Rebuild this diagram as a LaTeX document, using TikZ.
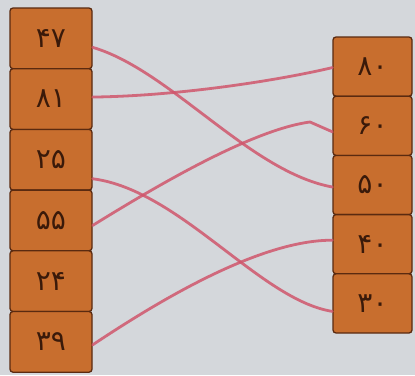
\documentclass[tikz,border=0pt]{standalone}
\usepackage{fontspec}
\newfontfamily\fa[Script=Arabic]{DejaVu Sans}
\usetikzlibrary{calc}
\definecolor{bg}{HTML}{D4D7DB}
\definecolor{boxfill}{HTML}{C86E2E}
\definecolor{boxline}{HTML}{5A2A10}
\definecolor{ink}{HTML}{3A1A0A}
\definecolor{pen}{HTML}{D0566C}
\tikzset{
  numbox/.style={draw=boxline, line width=1.3pt, fill=boxfill, rounded corners=3pt,
    minimum width=82pt, minimum height=60.7pt, inner sep=0pt,
    font=\fa\fontsize{28}{32}\selectfont, text=ink},
  rbox/.style={numbox, minimum width=79pt, minimum height=59.2pt},
  link/.style={draw=pen, line width=2.8pt, opacity=0.85, line cap=round}
}
\begin{document}
\begin{tikzpicture}[x=1pt,y=-1pt]
\fill[bg] (0,0) rectangle (415,375);
\useasboundingbox (0,0) rectangle (415,375);
% left column
\node[numbox] (l47) at (51,38.35) {۴۷};
\node[numbox] (l81) at (51,99.05) {۸۱};
\node[numbox] (l25) at (51,159.75) {۲۵};
\node[numbox] (l55) at (51,220.45) {۵۵};
\node[numbox] (l24) at (51,281.15) {۲۴};
\node[numbox] (l39) at (51,341.85) {۳۹};
% right column
\node[rbox] (r80) at (372.5,66.6) {۸۰};
\node[rbox] (r60) at (372.5,125.8) {۶۰};
\node[rbox] (r50) at (372.5,185.0) {۵۰};
\node[rbox] (r40) at (372.5,244.2) {۴۰};
\node[rbox] (r30) at (372.5,303.4) {۳۰};
% connectors
\coordinate (bend60) at (310,122);
\draw[link] ($(l47.east)+(0,9)$) .. controls (170,70) and (250,172) .. ($(r50.west)+(0,2)$);
\draw[link] ($(l81.east)+(0,-2)$) .. controls (180,96) and (280,80) .. ($(r80.west)+(0,1)$);
\draw[link] ($(l55.east)+(0,5)$) .. controls (150,190) and (250,130) .. (bend60) -- ($(r60.west)+(0,6)$);
\draw[link] ($(l25.east)+(0,19)$) .. controls (180,190) and (260,300) .. ($(r30.west)+(0,8)$);
\draw[link] ($(l39.east)+(0,3)$) .. controls (160,300) and (260,240) .. ($(r40.west)+(0,-4)$);
\end{tikzpicture}
\end{document}
